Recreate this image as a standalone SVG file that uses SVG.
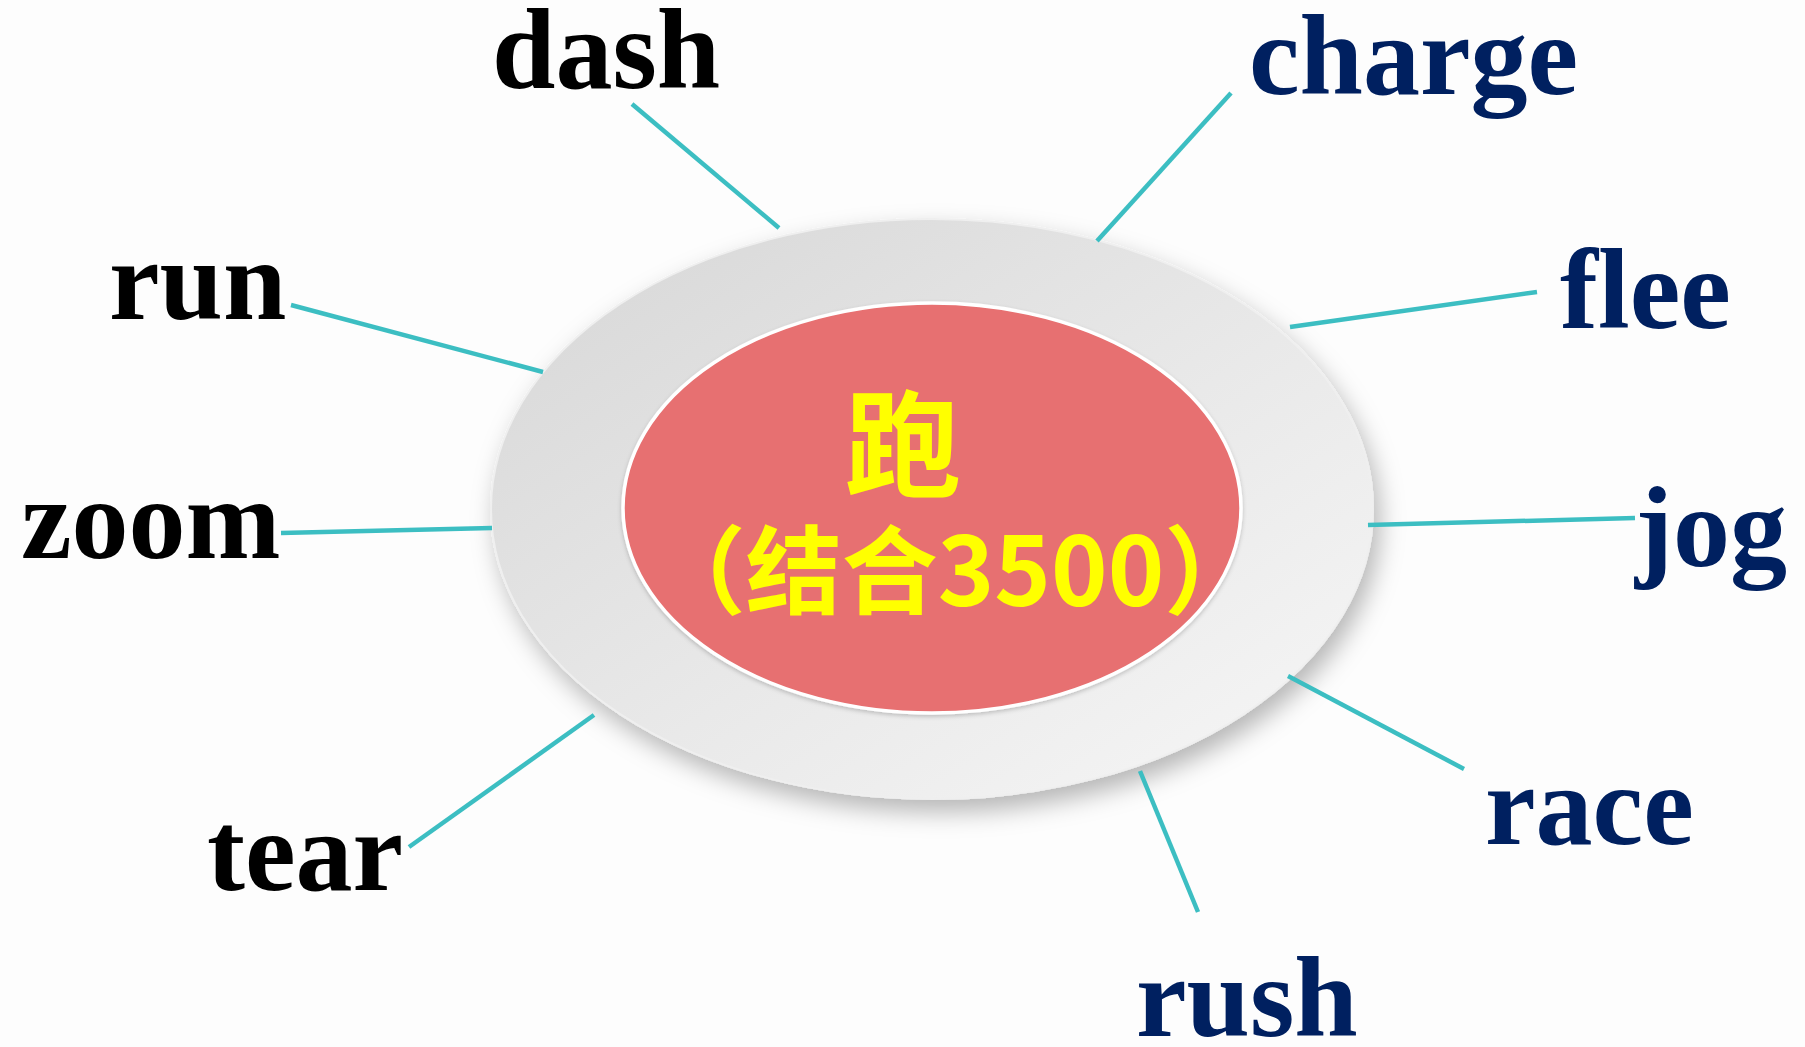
<svg xmlns="http://www.w3.org/2000/svg" width="1805" height="1047" viewBox="0 0 1805 1047">
<defs>
<linearGradient id="plate" x1="0" y1="0" x2="1" y2="1">
<stop offset="0" stop-color="#d6d6d6"/>
<stop offset="0.55" stop-color="#e9e9e9"/>
<stop offset="1" stop-color="#f7f7f7"/>
</linearGradient>
<filter id="sh" x="-20%" y="-20%" width="140%" height="150%">
<feDropShadow dx="6" dy="12" stdDeviation="12" flood-color="#000" flood-opacity="0.28"/>
</filter>
<filter id="sh2" x="-10%" y="-10%" width="120%" height="120%">
<feDropShadow dx="0" dy="2" stdDeviation="2" flood-color="#000" flood-opacity="0.2"/>
</filter>
</defs>
<style>
.lbl{font-family:"Liberation Serif","Times New Roman",serif;font-weight:bold;font-size:114px}
.blk{fill:#000}
.nav{fill:#002060}
.cn{font-family:"Noto Sans CJK SC","Noto Sans",sans-serif;font-weight:bold;fill:#ffff00}
.con line{stroke:#3cbec2;stroke-width:4.5}
</style>
<rect width="1805" height="1047" fill="#fdfdfd"/>
<g id="center">
<ellipse cx="932" cy="509" rx="441" ry="290" fill="url(#plate)" stroke="#efefef" stroke-width="2" filter="url(#sh)"/>
<ellipse cx="932" cy="508" rx="309" ry="205" fill="#e77071" stroke="#ffffff" stroke-width="3.5" filter="url(#sh2)"/>
<text class="cn" x="903" y="488" font-size="116" text-anchor="middle">跑</text>
<text class="cn" x="955" y="606" font-size="96" text-anchor="middle">（结合3500）</text>
</g>
<g class="con" id="connectors">
<line x1="632" y1="104" x2="779" y2="228"/>
<line x1="1231" y1="93" x2="1097" y2="241"/>
<line x1="291" y1="305" x2="543" y2="372"/>
<line x1="1537" y1="292" x2="1290" y2="327"/>
<line x1="281" y1="533" x2="492" y2="528"/>
<line x1="1635" y1="518" x2="1368" y2="525"/>
<line x1="409" y1="847" x2="594" y2="715"/>
<line x1="1464" y1="769" x2="1288" y2="676"/>
<line x1="1198" y1="912" x2="1140" y2="771"/>
</g>
<g id="dash"><text class="lbl blk" x="492" y="88">dash</text></g>
<g id="charge"><text class="lbl nav" x="1249" y="94">charge</text></g>
<g id="run"><text class="lbl blk" x="109" y="319">run</text></g>
<g id="flee"><text class="lbl nav" x="1560" y="328">flee</text></g>
<g id="zoom"><text class="lbl blk" x="21" y="558">zoom</text></g>
<g id="jog"><text class="lbl nav" x="1635" y="566">jog</text></g>
<g id="race"><text class="lbl nav" x="1485" y="844">race</text></g>
<g id="tear"><text class="lbl blk" x="207" y="890">tear</text></g>
<g id="rush"><text class="lbl nav" x="1136" y="1036">rush</text></g>
</svg>
